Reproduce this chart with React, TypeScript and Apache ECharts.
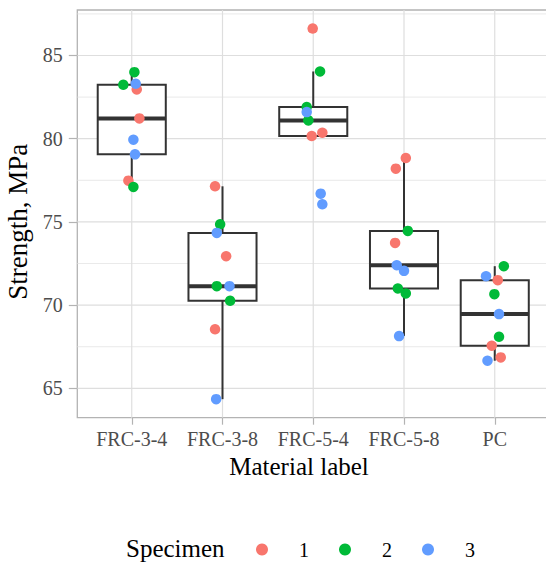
import React, { useEffect, useRef } from "react";
import * as echarts from "echarts";

const categories = ["FRC-3-4", "FRC-3-8", "FRC-5-4", "FRC-5-8", "PC"];
const specimens = ["1", "2", "3"];
const specimenColors = ["#F8766D", "#00BA38", "#619CFF"];

// three specimens per material, listed in category order
const spec1Values = [82.96, 81.22, 77.48, 77.14, 72.94, 68.55, 86.62, 80.16, 80.36, 78.84, 78.2, 73.74, 71.5, 67.56, 66.86];
const spec1Jitter = [0.055, 0.084, -0.037, -0.082, 0.04, -0.082, -0.006, -0.017, 0.1, 0.02, -0.09, -0.098, 0.033, -0.033, 0.066];
const spec2Values = [84.0, 83.24, 77.1, 74.86, 71.14, 70.26, 84.04, 81.9, 81.1, 74.46, 71.0, 70.7, 72.34, 70.66, 68.1];
const spec2Jitter = [0.029, -0.093, 0.018, -0.026, -0.063, 0.084, 0.075, -0.072, -0.054, 0.042, -0.068, 0.02, 0.1, -0.004, 0.047];
const spec3Values = [83.3, 79.94, 79.06, 74.34, 71.14, 64.35, 81.6, 76.7, 76.06, 72.4, 72.06, 68.14, 71.74, 69.46, 66.66];
const spec3Jitter = [0.044, 0.018, 0.036, -0.063, 0.077, -0.07, -0.072, 0.082, 0.1, -0.08, 0.0, -0.054, -0.096, 0.047, -0.08];

// box statistics per category
const whiskerLow = [77.1, 64.35, 80.16, 68.14, 66.66];
const quart1 = [79.06, 70.26, 80.16, 71.0, 67.56];
const medians = [81.22, 71.14, 81.1, 72.4, 69.46];
const quart3 = [83.24, 74.34, 81.9, 74.46, 71.5];
const whiskerHigh = [84.0, 77.14, 84.04, 78.84, 72.34];

const yTicks = [65, 70, 75, 80, 85];
const yMinor = [67.5, 72.5, 77.5, 82.5, 87.5];
const xTicks = [1, 2, 3, 4, 5];

const FONT = '"Liberation Serif", "Times New Roman", serif';

export default function App() {
  const ref = useRef<HTMLDivElement>(null);
  useEffect(() => {
    if (!ref.current) return;
    const chart = echarts.init(ref.current, null, { renderer: "svg" });
    const specValues = [spec1Values, spec2Values, spec3Values];
    const specJitter = [spec1Jitter, spec2Jitter, spec3Jitter];

    const hLine = (color: string, width: number) => (params: any, api: any) => {
      const cs = params.coordSys;
      const y = api.coord([1, api.value(1)])[1];
      return {
        type: "line",
        silent: true,
        shape: { x1: cs.x, y1: y, x2: cs.x + cs.width, y2: y },
        style: { stroke: color, lineWidth: width },
      };
    };
    const vLine = (params: any, api: any) => {
      const cs = params.coordSys;
      const x = api.coord([api.value(0), 70])[0];
      return {
        type: "line",
        silent: true,
        shape: { x1: x, y1: cs.y, x2: x, y2: cs.y + cs.height },
        style: { stroke: "#DEDEDE", lineWidth: 1.2 },
      };
    };

    const boxData = categories.map((_, i) => [i + 1, whiskerLow[i], quart1[i], medians[i], quart3[i], whiskerHigh[i]]);

    const option: any = {
      animation: false,
      textStyle: { fontFamily: FONT },
      grid: {
        left: 77.3,
        top: 10,
        right: -3.2,
        bottom: 145.3,
        show: true,
        borderColor: "#B3B3B3",
        borderWidth: 1.3,
        containLabel: false,
        outerBoundsMode: "none",
      },
      xAxis: {
        type: "value",
        min: 0.4,
        max: 5.6,
        axisLine: { show: false },
        splitLine: { show: false },
        axisTick: { show: true, customValues: xTicks, length: 7, lineStyle: { color: "#B3B3B3", width: 1.2 } },
        axisLabel: {
          customValues: xTicks,
          formatter: (v: number) => categories[Math.round(v) - 1] ?? "",
          fontSize: 20,
          color: "#4D4D4D",
          margin: 11,
          fontFamily: FONT,
        },
      },
      yAxis: {
        type: "value",
        min: 63.236,
        max: 87.734,
        name: "Strength, MPa",
        nameLocation: "middle",
        nameGap: 39.5,
        nameTextStyle: { fontSize: 27, color: "#000", fontFamily: FONT, padding: [0, 16, 0, 0] },
        axisLine: { show: false },
        splitLine: { show: false },
        axisTick: { show: true, customValues: yTicks, length: 8.5, lineStyle: { color: "#B3B3B3", width: 1.2 } },
        axisLabel: { customValues: yTicks, fontSize: 20, color: "#4D4D4D", margin: 14.5, fontFamily: FONT },
      },
      legend: {
        data: specimens,
        left: 256,
        top: 539.5,
        padding: 0,
        itemWidth: 12,
        itemHeight: 12,
        itemGap: 30,
        icon: "circle",
        textStyle: { fontSize: 20, color: "#000", fontFamily: FONT, padding: [0, 0, 0, 26] },
      },
      graphic: [
        {
          type: "text",
          x: 299,
          y: 466.5,
          style: {
            text: "Material label",
            fontSize: 25,
            fontFamily: FONT,
            fill: "#000",
            textAlign: "center",
            textVerticalAlign: "middle",
          },
        },
        {
          type: "text",
          x: 126,
          y: 548.3,
          style: {
            text: "Specimen",
            fontSize: 25,
            fontFamily: FONT,
            fill: "#000",
            textAlign: "left",
            textVerticalAlign: "middle",
          },
        },
      ],
      series: [
        {
          type: "custom",
          name: "minorGrid",
          silent: true,
          renderItem: hLine("#E3E3E3", 0.8),
          data: yMinor.map((v) => [1, v]),
          z: 0,
        },
        {
          type: "custom",
          name: "majorGrid",
          silent: true,
          renderItem: hLine("#DEDEDE", 1.2),
          data: yTicks.map((v) => [1, v]),
          z: 0,
        },
        {
          type: "custom",
          name: "catGrid",
          silent: true,
          renderItem: vLine,
          data: xTicks.map((v) => [v, 70]),
          z: 0,
        },
        {
          type: "custom",
          name: "box",
          silent: true,
          encode: { x: 0, y: [1, 2, 3, 4, 5] },
          data: boxData,
          z: 1,
          renderItem: (params: any, api: any) => {
            const x = api.value(0);
            const pLo = api.coord([x, api.value(1)]);
            const pQ1 = api.coord([x, api.value(2)]);
            const pMed = api.coord([x, api.value(3)]);
            const pQ3 = api.coord([x, api.value(4)]);
            const pHi = api.coord([x, api.value(5)]);
            const left = api.coord([x - 0.375, api.value(3)])[0];
            const right = api.coord([x + 0.375, api.value(3)])[0];
            const cx = pMed[0];
            const stroke = "#333333";
            return {
              type: "group",
              children: [
                { type: "line", shape: { x1: cx, y1: pQ3[1], x2: cx, y2: pHi[1] }, style: { stroke, lineWidth: 2 } },
                { type: "line", shape: { x1: cx, y1: pQ1[1], x2: cx, y2: pLo[1] }, style: { stroke, lineWidth: 2 } },
                {
                  type: "rect",
                  shape: { x: left, y: pQ3[1], width: right - left, height: pQ1[1] - pQ3[1] },
                  style: { fill: "#FFFFFF", stroke, lineWidth: 2 },
                },
                { type: "line", shape: { x1: left, y1: pMed[1], x2: right, y2: pMed[1] }, style: { stroke, lineWidth: 4 } },
              ],
            };
          },
        },
        ...specimens.map((s, k) => ({
          type: "scatter",
          name: s,
          symbol: "circle",
          symbolSize: 10.5,
          z: 3,
          itemStyle: { color: specimenColors[k], opacity: 1 },
          data: specValues[k].map((v, i) => [Math.floor(i / 3) + 1 + specJitter[k][i], v]),
        })),
      ],
    };
    chart.setOption(option);
    return () => chart.dispose();
  }, []);
  return (
    <div
      ref={ref}
      style={{ position: "fixed", left: 0, top: 0, width: 546, height: 563, background: "#fff" }}
    />
  );
}
